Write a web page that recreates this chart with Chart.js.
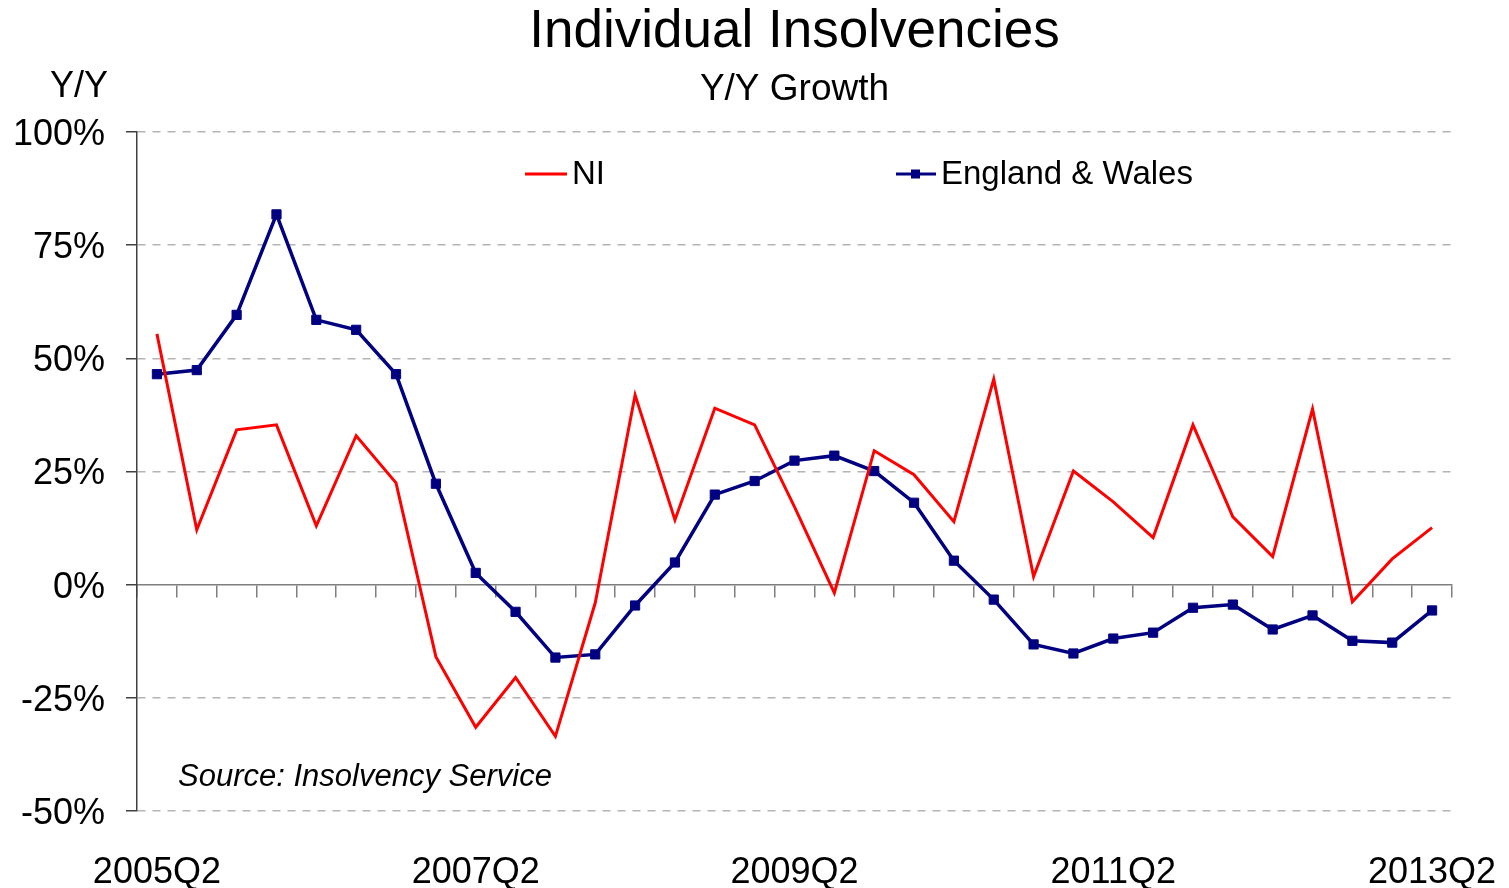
<!DOCTYPE html>
<html>
<head>
<meta charset="utf-8">
<title>Individual Insolvencies</title>
<script src="https://cdn.jsdelivr.net/npm/chart.js@4.4.0/dist/chart.umd.min.js"></script>
<style>
    html, body { margin: 0; padding: 0; background: #fff; }
    canvas { display: block; }
</style>
</head>
<body>
<canvas id="insolvencyChart" width="1509" height="888"></canvas>
<script>
const FONT = '"Liberation Sans", Arial, sans-serif'

const quarters = [
    '2005Q2', '2005Q3', '2005Q4',
    '2006Q1', '2006Q2', '2006Q3', '2006Q4',
    '2007Q1', '2007Q2', '2007Q3', '2007Q4',
    '2008Q1', '2008Q2', '2008Q3', '2008Q4',
    '2009Q1', '2009Q2', '2009Q3', '2009Q4',
    '2010Q1', '2010Q2', '2010Q3', '2010Q4',
    '2011Q1', '2011Q2', '2011Q3', '2011Q4',
    '2012Q1', '2012Q2', '2012Q3', '2012Q4',
    '2013Q1', '2013Q2'
]

// year-on-year growth, %
const niGrowth = [
    55.4, 12.1, 34.2, 35.3, 13.0, 32.9, 22.5, -15.9, -31.5, -20.5, -33.5,
    -4.0, 41.9, 14.3, 39.0, 35.3, 17.2, -1.8, 29.6, 24.3, 13.9, 45.4,
    1.8, 25.1, 18.3, 10.4, 35.3, 15.0, 6.2, 38.8, -3.8, 5.7, 12.6
]
const ewGrowth = [
    46.5, 47.4, 59.6, 81.8, 58.5, 56.3, 46.5, 22.3, 2.6, -6.0, -16.1,
    -15.4, -4.6, 4.9, 19.9, 22.9, 27.4, 28.5, 25.1, 18.1, 5.3, -3.3,
    -13.2, -15.2, -11.9, -10.6, -5.1, -4.4, -9.9, -6.8, -12.4, -12.8, -5.7
]

const yTicks = [-50, -25, 0, 25, 50, 75, 100]
const labelEvery = 8

// legend, axis caption and source note drawn straight onto the canvas
const extrasPlugin = {
    id: 'extras',
    afterDraw(chart) {
        const ctx = chart.ctx
        const area = chart.chartArea
        const ds = chart.data.datasets
        ctx.save()
        ctx.fillStyle = '#000'
        ctx.textBaseline = 'middle'
        ctx.textAlign = 'left'

        ctx.font = '36px ' + FONT
        ctx.fillText('Y/Y', 50, 87)

        const ly = area.top + 42
        ctx.font = '33px ' + FONT

        ctx.strokeStyle = ds[0].borderColor
        ctx.lineWidth = 3
        ctx.beginPath()
        ctx.moveTo(525, ly)
        ctx.lineTo(567, ly)
        ctx.stroke()
        ctx.fillText(ds[0].label, 572, ly + 1)

        ctx.strokeStyle = ds[1].borderColor
        ctx.lineWidth = 3
        ctx.beginPath()
        ctx.moveTo(896, ly)
        ctx.lineTo(936, ly)
        ctx.stroke()
        ctx.fillStyle = ds[1].pointBackgroundColor
        ctx.fillRect(911, ly - 4.5, 9, 9)
        ctx.fillStyle = '#000'
        ctx.fillText(ds[1].label, 941, ly + 1)

        ctx.font = 'italic 31px ' + FONT
        ctx.fillText('Source: Insolvency Service', 178, 777)
        ctx.restore()
    }
}

const config = {
    type: 'line',
    data: {
        labels: quarters,
        datasets: [{
            label: 'NI',
            data: niGrowth,
            borderColor: '#ff0000',
            borderWidth: 3,
            pointRadius: 0,
            tension: 0
        },
        {
            label: 'England & Wales',
            data: ewGrowth,
            borderColor: '#000080',
            backgroundColor: '#000080',
            pointBackgroundColor: '#000080',
            pointBorderColor: '#000080',
            borderWidth: 3.5,
            pointStyle: 'rect',
            pointRadius: 6.5,
            pointBorderWidth: 1,
            tension: 0
        }]
    },
    options: {
        responsive: false,
        animation: false,
        layout: {
            padding: { top: 1, right: 57, bottom: 0, left: 0 }
        },
        plugins: {
            legend: { display: false },
            tooltip: { enabled: false },
            title: {
                display: true,
                text: 'Individual Insolvencies',
                fullSize: false,
                color: '#000',
                font: { size: 53, family: FONT, weight: 'normal' },
                padding: { top: 0, bottom: 0 }
            },
            subtitle: {
                display: true,
                text: 'Y/Y Growth',
                fullSize: false,
                color: '#000',
                font: { size: 37, family: FONT, weight: 'normal' },
                padding: { top: 3, bottom: 20 }
            }
        },
        scales: {
            x: {
                type: 'category',
                position: 'bottom',
                offset: true,
                grid: { display: false, drawTicks: false },
                border: { display: false },
                ticks: {
                    autoSkip: false,
                    maxRotation: 0,
                    color: '#000',
                    padding: 40,
                    font: { size: 36, family: FONT },
                    callback: (value, index) => index % labelEvery === 0 ? quarters[index] : ''
                },
                afterFit: (scale) => {
                    scale.height = 77
                    // end labels may hang past the plot edges
                    scale.paddingLeft = 0
                    scale.paddingRight = 0
                }
            },
            xZero: {
                type: 'category',
                axis: 'x',
                position: { y: 0 },
                offset: true,
                grid: {
                    offset: true,
                    drawOnChartArea: false,
                    tickLength: 12,
                    color: '#7f7f7f',
                    lineWidth: 1.5
                },
                border: { color: '#7f7f7f', width: 1.5 },
                ticks: { display: false }
            },
            y: {
                min: -50,
                max: 100,
                afterBuildTicks: (scale) => {
                    scale.ticks = yTicks.map(v => ({ value: v }))
                },
                grid: {
                    color: (ctx) => ctx.tick && ctx.tick.value === 0 ? 'rgba(0,0,0,0)' : '#b4b4b4',
                    lineWidth: 1.5,
                    tickLength: 11,
                    tickColor: '#404040'
                },
                border: {
                    color: '#404040',
                    width: 1.5,
                    dash: [8, 7]
                },
                ticks: {
                    color: '#000',
                    padding: 21,
                    labelOffset: 3,
                    font: { size: 36, family: FONT },
                    callback: (value) => value + '%'
                },
                afterFit: (scale) => { scale.width = 137 }
            }
        }
    },
    plugins: [extrasPlugin]
}

const insolvencyChart = new Chart(document.getElementById('insolvencyChart'), config)
</script>
</body>
</html>
